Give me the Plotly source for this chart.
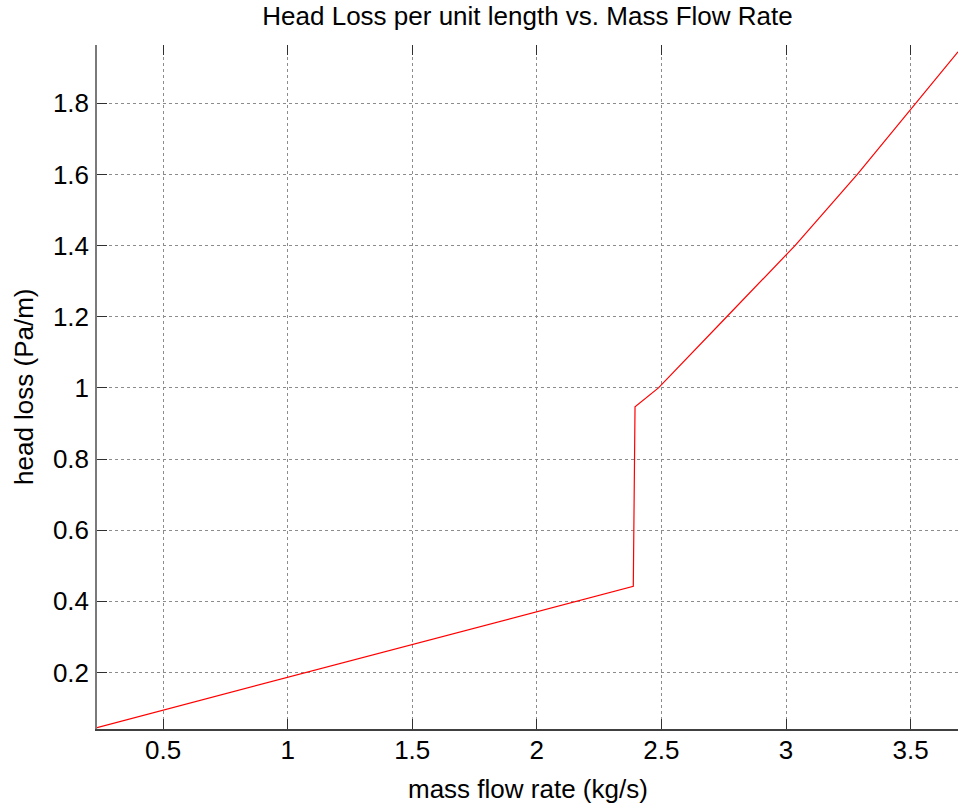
import plotly.graph_objects as go

# Data
mass_flow = [0.235, 0.5, 1.0, 1.5, 2.0, 2.153, 2.387, 2.394, 2.488, 2.762, 3.0, 3.036, 3.286, 3.518, 3.69]
head_loss = [0.045, 0.094, 0.187, 0.278, 0.371, 0.400, 0.442, 0.947, 1.000, 1.200, 1.373, 1.400, 1.600, 1.800, 1.945]

x_ticks = [0.5, 1, 1.5, 2, 2.5, 3, 3.5]
x_tick_text = ["0.5", "1", "1.5", "2", "2.5", "3", "3.5"]
y_ticks = [0.2, 0.4, 0.6, 0.8, 1.0, 1.2, 1.4, 1.6, 1.8]
y_tick_text = ["0.2", "0.4", "0.6", "0.8", "1", "1.2", "1.4", "1.6", "1.8"]

x_range = [0.235, 3.69]
y_range = [0.041, 1.964]

FONT = "Liberation Sans, Arial, sans-serif"
FS = 26

fig = go.Figure()
fig.add_trace(go.Scatter(x=mass_flow, y=head_loss, mode="lines",
                         line=dict(color="#ff0000", width=1.2), showlegend=False))
# invisible trace on top axis to get mirrored tick marks without axis line
fig.add_trace(go.Scatter(x=[x_range[0]], y=[y_range[0]], xaxis="x2", mode="markers",
                         marker=dict(opacity=0), showlegend=False, hoverinfo="skip"))

fig.update_layout(
    width=958, height=803,
    margin=dict(l=97, r=0, t=45, b=74),
    paper_bgcolor="white", plot_bgcolor="white",
    font=dict(family=FONT, size=FS, color="black"),
    title=dict(text="Head Loss per unit length vs. Mass Flow Rate",
               x=0.5, xref="paper", xanchor="center",
               y=1 - 16 / 803, yref="container", yanchor="middle",
               font=dict(family=FONT, size=FS, color="black")),
    xaxis=dict(range=x_range, tickvals=x_ticks, ticktext=x_tick_text,
               showgrid=True, gridcolor="#8c8c8c", griddash="dot", gridwidth=1,
               zeroline=False, showline=True, linecolor="#404040", linewidth=1.5,
               ticks="inside", ticklen=10, tickwidth=1.2, tickcolor="#303030",
               ticklabelstandoff=-3,
               tickfont=dict(family=FONT, size=FS, color="black")),
    xaxis2=dict(range=x_range, overlaying="x", side="top", tickvals=x_ticks,
                showticklabels=False, showgrid=False, zeroline=False, showline=False,
                ticks="inside", ticklen=10, tickwidth=1.2, tickcolor="#303030"),
    yaxis=dict(range=y_range, tickvals=y_ticks, ticktext=y_tick_text,
               showgrid=True, gridcolor="#8c8c8c", griddash="dot", gridwidth=1,
               zeroline=False, showline=True, linecolor="#7a7a7a", linewidth=1.5,
               ticks="inside", ticklen=10, tickwidth=1.2, tickcolor="#303030",
               ticklabelstandoff=1,
               tickfont=dict(family=FONT, size=FS, color="black")),
    annotations=[
        dict(text="mass flow rate (kg/s)", xref="paper", yref="paper",
             x=0.5, y=(729 - 789) / 684, xanchor="center", yanchor="middle",
             showarrow=False, font=dict(family=FONT, size=FS, color="black")),
        dict(text="head loss (Pa/m)", xref="paper", yref="paper",
             x=(24 - 97) / 861, y=0.5, xanchor="center", yanchor="middle",
             textangle=-90, showarrow=False,
             font=dict(family=FONT, size=FS, color="black")),
    ],
)

fig.write_html("out.html", config={"displayModeBar": False},
               post_script="document.body.style.margin='0';document.body.style.padding='0';document.body.style.overflow='hidden';")
